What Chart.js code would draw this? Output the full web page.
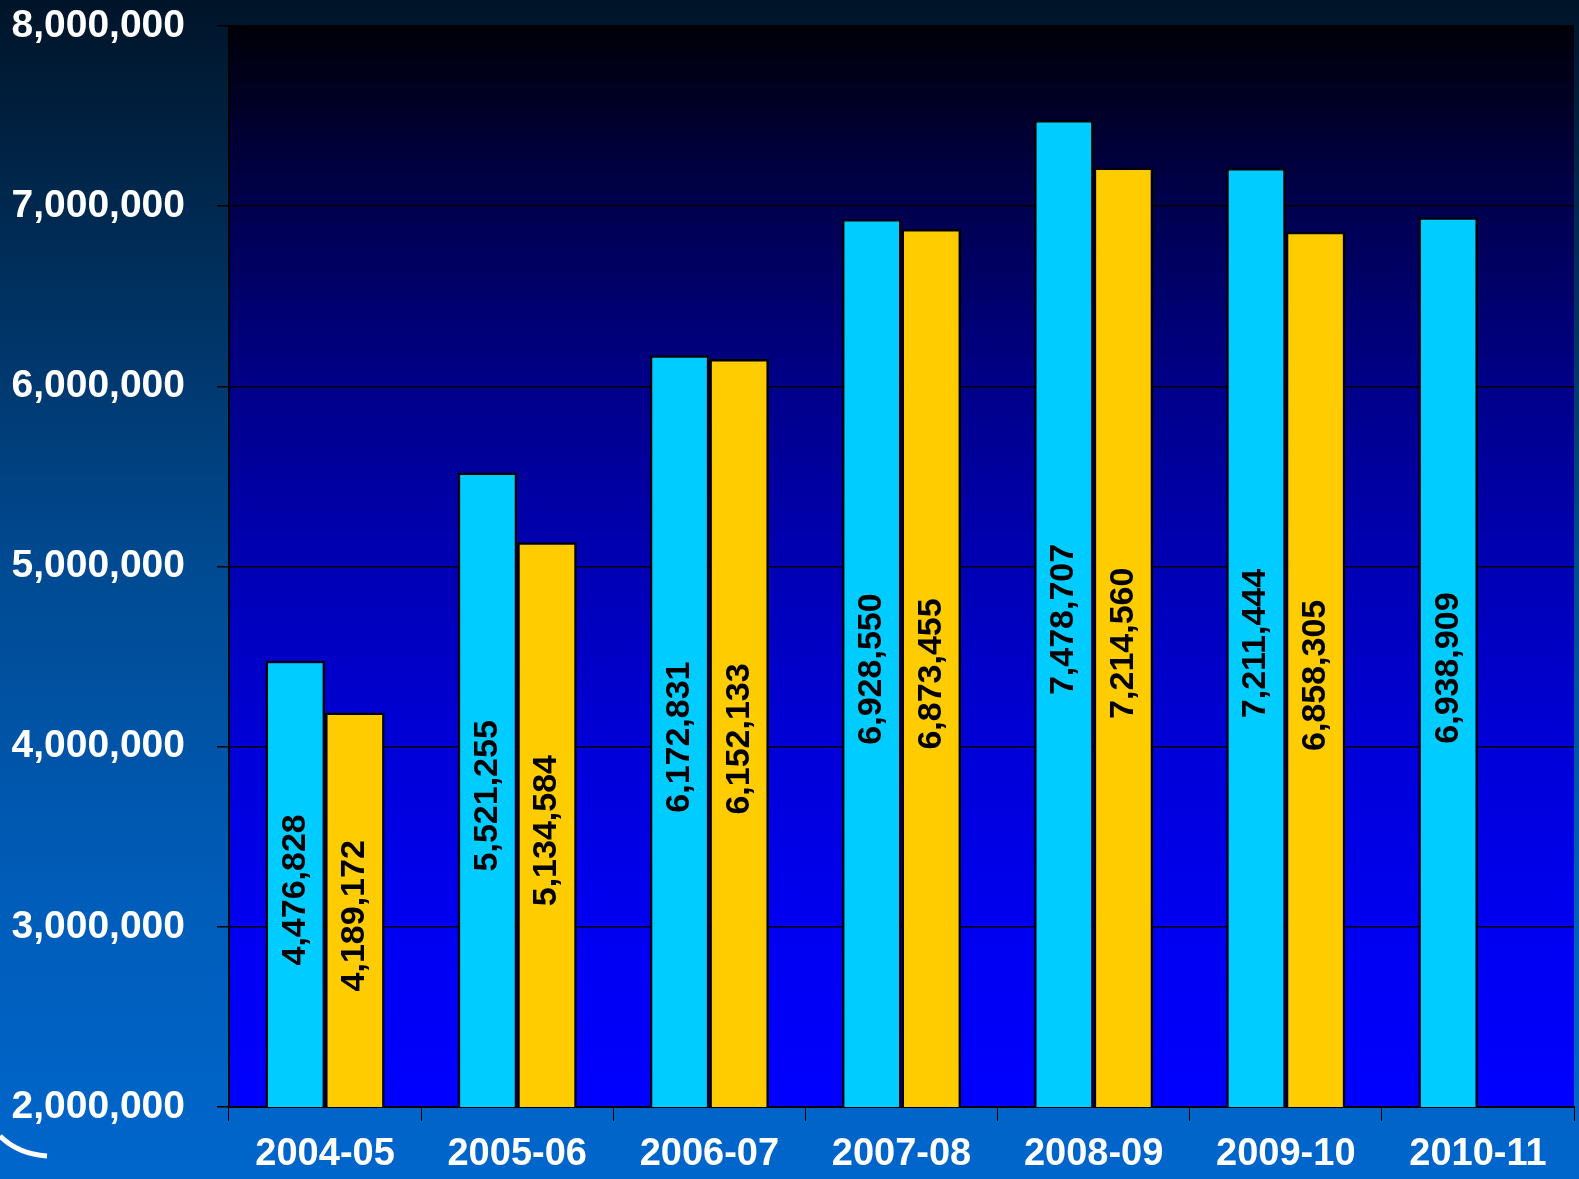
<!DOCTYPE html>
<html>
<head>
<meta charset="utf-8">
<script src="https://cdn.jsdelivr.net/npm/chart.js@4.4.0/dist/chart.umd.min.js"></script>
<style>
  html,body{margin:0;padding:0;background:#003070;}
  canvas{display:block;}
</style>
</head>
<body>
<canvas id="chart" width="1579" height="1179"></canvas>
<script>
// ----- Datos -----
const years = ['2004-05','2005-06','2006-07','2007-08','2008-09','2009-10','2010-11'];
const cyanValues = [4476828, 5521255, 6172831, 6928550, 7478707, 7211444, 6938909];
const goldValues = [4189172, 5134584, 6152133, 6873455, 7214560, 6858305, null];
const yMin = 2000000, yMax = 8000000, yStep = 1000000;

const fontFam = '"Liberation Sans", Arial, sans-serif';

// ----- Fondo (diapositiva + área del gráfico) -----
const bgPlugin = {
  id:'bg',
  beforeDraw(chart){
    const {ctx, width, height, chartArea:a} = chart;
    ctx.save();
    const g = ctx.createLinearGradient(0,0,0,height);
    g.addColorStop(0,'#001428');
    g.addColorStop(0.24,'#00305e');
    g.addColorStop(0.48,'#004a92');
    g.addColorStop(0.75,'#005cb8');
    g.addColorStop(1,'#0066cc');
    ctx.fillStyle = g;
    ctx.fillRect(0,0,width,height);
    const p = ctx.createLinearGradient(0,a.top,0,a.bottom);
    p.addColorStop(0,'#000008');
    p.addColorStop(0.17,'#000050');
    p.addColorStop(0.33,'#000088');
    p.addColorStop(0.5,'#0000b4');
    p.addColorStop(0.67,'#0000d8');
    p.addColorStop(0.83,'#0000f0');
    p.addColorStop(1,'#0000ff');
    ctx.fillStyle = p;
    ctx.fillRect(a.left,a.top,a.right-a.left,a.bottom-a.top);
    // arco decorativo abajo a la izquierda
    ctx.strokeStyle = '#ffffff';
    ctx.lineWidth = 5;
    ctx.beginPath();
    ctx.moveTo(0,1136);
    ctx.quadraticCurveTo(18,1154,47,1156);
    ctx.stroke();
    ctx.restore();
  }
};

// ----- Etiquetas verticales dentro de las barras -----
const labelPlugin = {
  id:'barLabels',
  afterDatasetsDraw(chart){
    const ctx = chart.ctx;
    const bottom = chart.chartArea.bottom;
    ctx.save();
    ctx.font = 'bold 34px ' + fontFam;
    ctx.fillStyle = '#000';
    ctx.textAlign = 'center';
    ctx.textBaseline = 'middle';
    chart.data.datasets.forEach((ds,i)=>{
      chart.getDatasetMeta(i).data.forEach((bar,j)=>{
        const v = ds.data[j];
        if(v==null) return;
        const cy = (bar.y + Math.min(bar.base, bottom))/2 + 6;
        ctx.save();
        ctx.translate(bar.x, cy);
        ctx.rotate(-Math.PI/2);
        ctx.fillText(v.toLocaleString('en-US'), 0, 0);
        ctx.restore();
      });
    });
    ctx.restore();
  }
};

new Chart(document.getElementById('chart'),{
  type:'bar',
  data:{
    labels: years,
    datasets:[
      { data: cyanValues, backgroundColor:'#00ccff', borderColor:'#000', borderWidth:2.5 },
      { data: goldValues, backgroundColor:'#ffcc00', borderColor:'#000', borderWidth:2.5 }
    ]
  },
  options:{
    responsive:false,
    animation:false,
    layout:{ padding:{ top:0, right:5, left:0, bottom:0 } },
    datasets:{ bar:{ categoryPercentage:0.62, barPercentage:1 } },
    plugins:{ legend:{ display:false }, tooltip:{ enabled:false } },
    scales:{
      x:{
        grid:{ drawOnChartArea:false, drawTicks:true, tickLength:14, color:'#000', offset:true },
        border:{ display:true, color:'#000', width:2 },
        ticks:{ color:'#fff', font:{ family:fontFam, size:38, weight:'bold', lineHeight:1 }, padding:15, maxRotation:0 },
        afterFit(s){ s.height = 72; }
      },
      y:{
        min:yMin, max:yMax,
        grid:{ color:'#000', lineWidth:1.5, tickLength:12 },
        border:{ display:true, color:'#000', width:2 },
        ticks:{ stepSize:yStep, color:'#fff', padding:32,
          font:{ family:fontFam, size:39, weight:'bold' },
          callback:v=>v.toLocaleString('en-US') },
        afterFit(s){ s.width = 229; s.paddingTop = 26; s.paddingBottom = 0; }
      }
    }
  },
  plugins:[bgPlugin, labelPlugin]
});
</script>
</body>
</html>
